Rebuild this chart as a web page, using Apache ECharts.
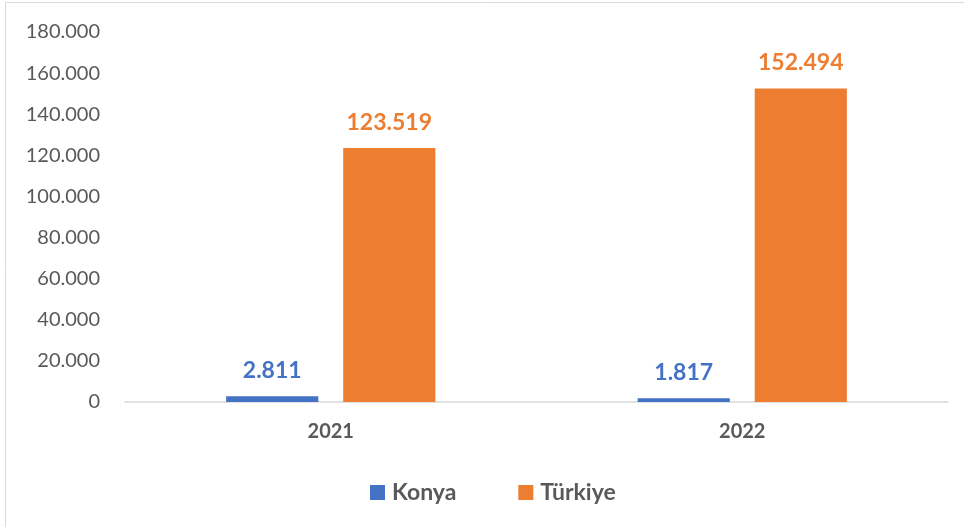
<!DOCTYPE html>
<html>
<head>
<meta charset="utf-8">
<script src="https://cdn.jsdelivr.net/npm/echarts@6/dist/echarts.min.js"></script>
<style>
html,body{margin:0;padding:0;background:#fff;overflow:hidden;}
#chart{width:964px;height:527px;}
</style>
</head>
<body>
<div id="chart"></div>
<script>
const categories = ['2021', '2022'];
const konya = [2811, 1817];
const turkiye = [123519, 152494];
const seriesNames = ['Konya', 'Türkiye'];

function fmt(v) {
  return String(v).replace(/\B(?=(\d{3})+(?!\d))/g, '.');
}

const FONT = 'Lato';
const chart = echarts.init(document.getElementById('chart'));
chart.setOption({
  animation: false,
  backgroundColor: '#ffffff',
  graphic: [{
    type: 'rect',
    shape: { x: 5.5, y: 2.5, width: 1200, height: 800 },
    style: { fill: 'none', stroke: '#d9d9d9', lineWidth: 1 },
    silent: true
  }],
  grid: { left: 125, right: 16, top: 32, bottom: 125, containLabel: false },
  legend: {
    left: 365,
    top: 476,
    itemWidth: 15,
    itemHeight: 15,
    itemGap: 62,
    icon: 'rect',
    textStyle: { fontFamily: FONT, fontSize: 23, fontWeight: 'bold', color: '#595959', padding: [0, 0, 0, 2] },
    data: seriesNames
  },
  xAxis: {
    type: 'category',
    data: categories,
    axisLine: { show: true, lineStyle: { color: '#d9d9d9', width: 1.5 } },
    axisTick: { show: false },
    axisLabel: { fontFamily: FONT, fontSize: 20, fontWeight: 'bold', color: '#595959', margin: 20 }
  },
  yAxis: {
    type: 'value',
    min: 0,
    max: 180000,
    interval: 20000,
    axisLine: { show: false },
    axisTick: { show: false },
    splitLine: { show: false },
    axisLabel: { fontFamily: FONT, fontSize: 20, color: '#595959', margin: 25, formatter: fmt }
  },
  series: [
    {
      name: seriesNames[0],
      type: 'bar',
      data: konya,
      barWidth: '22.4%',
      barGap: '27%',
      itemStyle: { color: '#4472C4' },
      label: { show: true, position: 'top', distance: 14, fontFamily: FONT, fontSize: 23, fontWeight: 'bold', color: '#4472C4', formatter: p => fmt(p.value) }
    },
    {
      name: seriesNames[1],
      type: 'bar',
      data: turkiye,
      barWidth: '22.4%',
      barGap: '27%',
      itemStyle: { color: '#ED7D31' },
      label: { show: true, position: 'top', distance: 14, fontFamily: FONT, fontSize: 23, fontWeight: 'bold', color: '#ED7D31', formatter: p => fmt(p.value) }
    }
  ]
});
</script>
</body>
</html>
